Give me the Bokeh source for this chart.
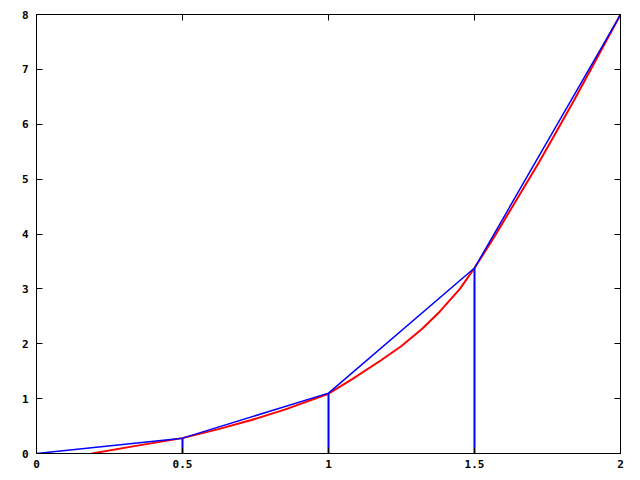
from bokeh.plotting import figure
from bokeh.models import Range1d, LinearAxis, FixedTicker
from bokeh.embed import file_html
from bokeh.resources import INLINE

# Data
red_x = [0.19, 0.33, 0.5, 0.62, 0.73, 0.85, 1.0, 1.08, 1.18, 1.25, 1.32, 1.38, 1.45, 1.5,
         1.56, 1.62, 1.72, 1.78, 1.84, 1.92, 2.0]
red_y = [0.0, 0.13, 0.28, 0.44, 0.6, 0.8, 1.09, 1.35, 1.7, 1.96, 2.27, 2.58, 3.0, 3.38,
         3.88, 4.41, 5.3, 5.86, 6.43, 7.21, 8.0]
blue_x = [0, 0.5, 1, 1.5, 2]
blue_y = [0, 0.28, 1.1, 3.38, 8]
stem_x = [0.5, 1, 1.5]
stem_y = [0.28, 1.1, 3.38]
x_ticks = [0, 0.5, 1, 1.5, 2]
x_labels = ["0", "0.5", "1", "1.5", "2"]
y_ticks = [0, 1, 2, 3, 4, 5, 6, 7, 8]

p = figure(width=640, height=480, output_backend="svg", toolbar_location=None,
           x_range=Range1d(0, 2), y_range=Range1d(0, 8),
           min_border_left=36, min_border_right=20, min_border_top=14, min_border_bottom=27)
p.grid.visible = False
p.outline_line_color = "black"
p.outline_line_width = 1
p.background_fill_color = "white"
p.border_fill_color = "white"

FONT = "DejaVu Sans Mono"

def style(ax):
    ax.major_tick_in = 6
    ax.major_tick_out = 0
    ax.minor_tick_in = 0
    ax.minor_tick_out = 0
    ax.axis_line_color = "black"
    ax.major_tick_line_color = "black"
    ax.major_label_text_font = FONT
    ax.major_label_text_font_style = "bold"
    ax.major_label_text_font_size = "11px"
    ax.major_label_text_color = "black"
    ax.major_label_standoff = 6

xax = p.xaxis[0]
xax.ticker = FixedTicker(ticks=x_ticks)
xax.major_label_overrides = {t: l for t, l in zip(x_ticks, x_labels)}
style(xax)
yax = p.yaxis[0]
yax.ticker = FixedTicker(ticks=y_ticks)
style(yax)
yax.major_label_standoff = 8

top = LinearAxis(ticker=FixedTicker(ticks=x_ticks))
style(top)
top.major_label_overrides = {t: "" for t in x_ticks}
top.major_label_standoff = 0
p.add_layout(top, "above")
right = LinearAxis(ticker=FixedTicker(ticks=y_ticks))
style(right)
right.major_label_overrides = {t: "" for t in y_ticks}
right.major_label_standoff = 0
p.add_layout(right, "right")

p.line(red_x, red_y, line_color="#ff0000", line_width=2)
p.line(blue_x, blue_y, line_color="#0000ff", line_width=1.5)
p.segment(x0=stem_x, y0=[0] * len(stem_x), x1=stem_x, y1=stem_y, line_color="#0000ff", line_width=2)

open("out.html", "w").write(file_html(p, INLINE))
